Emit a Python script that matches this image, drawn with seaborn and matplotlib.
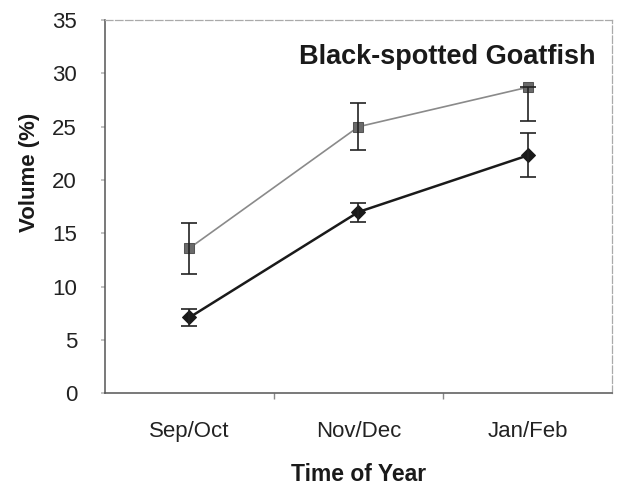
import matplotlib
matplotlib.use("Agg")
import matplotlib.pyplot as plt
import seaborn as sns
import numpy as np
import pandas as pd

periods = ["Sep/Oct", "Nov/Dec", "Jan/Feb"]
upper_series = [13.6, 25.0, 28.7]
upper_err_low = [2.4, 2.2, 3.2]
upper_err_high = [2.4, 2.2, 0.0]
lower_series = [7.1, 17.0, 22.3]
lower_err_low = [0.8, 0.9, 2.0]
lower_err_high = [0.8, 0.8, 2.1]
yticks = [0, 5, 10, 15, 20, 25, 30, 35]

sns.set_theme(style="white")
plt.rcParams["font.family"] = ["Liberation Sans", "DejaVu Sans"]

fig = plt.figure(figsize=(6.24, 4.92), dpi=100)
ax = fig.add_axes([0.168, 0.201, 0.813, 0.758])

xpos = np.arange(len(periods))
df = pd.DataFrame({
    "x": np.concatenate([xpos, xpos]),
    "y": upper_series + lower_series,
    "series": ["A"] * 3 + ["B"] * 3,
})

sns.lineplot(data=df[df.series == "A"], x="x", y="y", ax=ax, color="#8a8a8a",
             lw=1.2, marker="s", markersize=7.5, markerfacecolor="#6a6a6a",
             markeredgecolor="#555555", legend=False)
sns.lineplot(data=df[df.series == "B"], x="x", y="y", ax=ax, color="#1a1a1a",
             lw=1.8, marker="D", markersize=7, markerfacecolor="#1a1a1a",
             markeredgecolor="#1a1a1a", legend=False)

ax.errorbar(xpos, upper_series, yerr=[upper_err_low, upper_err_high], fmt="none",
            ecolor="#222222", elinewidth=1.2, capsize=6, capthick=1.2)
ax.errorbar(xpos, lower_series, yerr=[lower_err_low, lower_err_high], fmt="none",
            ecolor="#222222", elinewidth=1.2, capsize=6, capthick=1.2)

ax.set_xlim(-0.5, 2.5)
ax.set_ylim(0, 35)
ax.set_yticks(yticks)
ax.set_yticklabels([str(v) for v in yticks], fontsize=16, color="#222222")
ax.set_xticks(xpos)
ax.set_xticklabels(periods, fontsize=16, color="#222222")
ax.set_xticks([0.5, 1.5], minor=True)
ax.tick_params(axis="x", which="major", length=0, pad=20)
ax.tick_params(axis="x", which="minor", length=4, color="#888888", direction="out", bottom=True)
ax.tick_params(axis="y", which="major", length=3, color="#bbbbbb", pad=17, left=True)

for side in ["top", "right"]:
    ax.spines[side].set_color("#aaaaaa")
    ax.spines[side].set_linewidth(0.9)
    ax.spines[side].set_linestyle((0, (6, 2)))
for side in ["left", "bottom"]:
    ax.spines[side].set_color("#555555")
    ax.spines[side].set_linewidth(1.1)

ax.set_xlabel("Time of Year", fontsize=16.5, fontweight="bold", labelpad=15, color="#1a1a1a")
ax.set_ylabel("Volume (%)", fontsize=16, fontweight="bold", color="#1a1a1a")
ax.yaxis.set_label_coords(-0.128, 0.592)
ax.text(0.968, 0.90, "Black-spotted Goatfish", transform=ax.transAxes,
        ha="right", va="center", fontsize=19.5, fontweight="bold", color="#1a1a1a")

fig.savefig("out.png", dpi=100, facecolor="white")
